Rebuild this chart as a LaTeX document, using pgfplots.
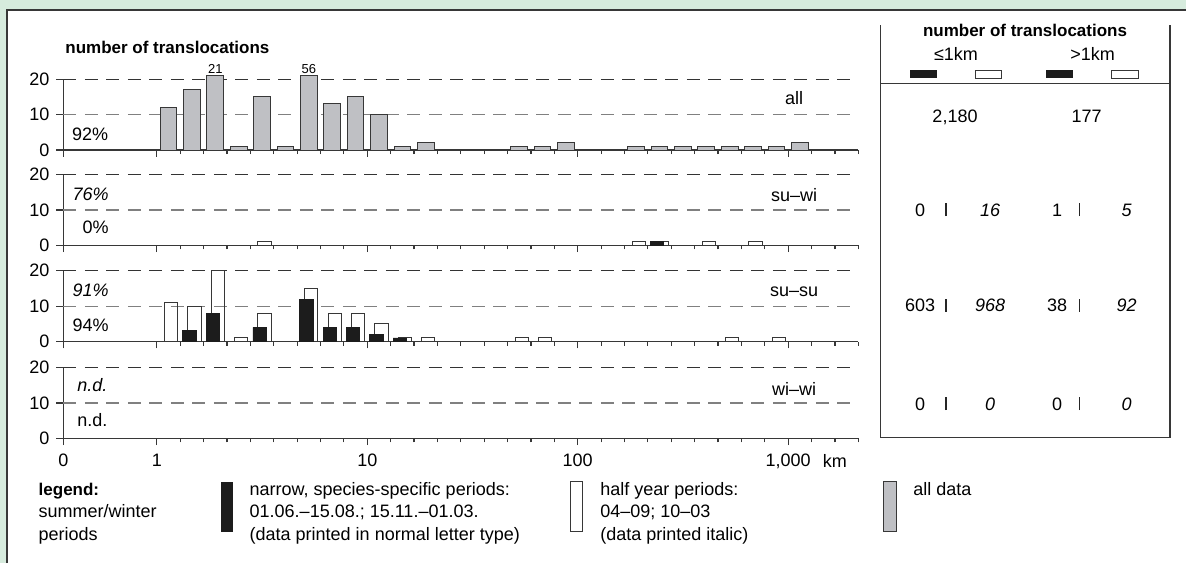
\documentclass[border=0pt]{standalone}
\usepackage{pgfplots}
\usepackage{pgfplotstable}
\pgfplotsset{compat=1.18}
\usepackage{fontspec}
\setmainfont{Liberation Sans}

\definecolor{bggreen}{RGB}{214,235,221}
\definecolor{allgrey}{RGB}{191,192,196}
\definecolor{narrowblk}{RGB}{28,28,28}
\definecolor{edge}{RGB}{55,55,55}

% x = bin index on the pseudo-log distance axis:
% -4 = 0 km, 0 = 1 km, 9 = 10 km, 18 = 100 km, 27 = 1,000 km (one tick per step)
% bars sit at the bin centres (e.g. 0.5 = 1-2 km, 10.5 = 20-30 km)
\pgfplotstableread{
bin n
0.5 12
1.5 17
2.5 21
3.5 1
4.5 15
5.5 1
6.5 56
7.5 13
8.5 15
9.5 10
10.5 1
11.5 2
15.5 1
16.5 1
17.5 2
20.5 1
21.5 1
22.5 1
23.5 1
24.5 1
25.5 1
26.5 1
27.5 2
}\alldata

\pgfplotstableread{
bin n
21.5 1
}\suwinarrow
\pgfplotstableread{
bin n
4.5 1
20.5 1
21.5 1
23.5 1
25.5 1
}\suwihalf

\pgfplotstableread{
bin n
1.5 3
2.5 8
4.5 4
6.5 12
7.5 4
8.5 4
9.5 2
10.5 1
}\susunarrow
\pgfplotstableread{
bin n
0.5 11
1.5 10
2.5 20
3.5 1
4.5 8
6.5 15
7.5 8
8.5 8
9.5 5
10.5 1
11.5 1
15.5 1
16.5 1
24.5 1
26.5 1
}\susuhalf

\pgfplotsset{
  panel/.style={
    scale only axis, width=397.5pt, height=35.4pt,
    anchor=south west,
    xmin=-4, xmax=30, ymin=0, ymax=20,
    clip=false,
    restrict y to domain*=0:21,
    axis x line=bottom, axis y line=left,
    axis line style={-, edge, line width=0.6pt},
    tick align=outside,
    major tick length=3.4pt, minor tick length=2pt,
    tick style={edge, line width=0.6pt},
    xtick={-4,0,9,18,27},
    minor xtick={1,2,3,4,5,6,7,8,10,11,12,13,14,15,16,17,19,20,21,22,23,24,25,26,28,29,30},
    xticklabels={},
    ytick={0,20}, yticklabels={0,20},
    extra y ticks={10}, extra y tick labels={10},
    ymajorgrids,
    major grid style={black!80, line width=0.6pt, dash pattern=on 6.5pt off 4.25pt},
    extra y tick style={major grid style={black!50, line width=0.6pt, dash pattern=on 6.5pt off 4.25pt}},
    tick label style={font=\fontsize{9}{11}\selectfont},
    /pgf/number format/assume math mode=true,
  },
  grey bar/.style={ybar, bar width=8.35pt, bar shift=0pt, fill=allgrey, draw=edge, line width=0.5pt},
  narrow bar/.style={ybar, bar width=6.65pt, bar shift=-1.25pt, fill=narrowblk, draw=narrowblk, line width=0.4pt},
  half bar/.style={ybar, bar width=6.65pt, bar shift=1.25pt, fill=none, draw=edge, line width=0.5pt},
}

\begin{document}
\begin{tikzpicture}
\begin{scope}[x=0.5pt, y=-0.5pt]
  \path[use as bounding box] (0,0) rectangle (1186,563);
  \fill[bggreen] (0,0) rectangle (1186,563);
  \fill[white] (7,10) rectangle (1186,563);
  \draw[edge, line width=0.7pt] (7,563) -- (7,10) -- (1186,10);
\end{scope}

% all
\begin{axis}[panel, at={(31.65pt,-75pt)}]
  \addplot[grey bar] table[x=bin, y=n] {\alldata};
  \node[font=\fontsize{6.5}{7}\selectfont, anchor=south, inner sep=0.8pt] at (axis cs:2.5,21) {21};
  \node[font=\fontsize{6.5}{7}\selectfont, anchor=south, inner sep=0.8pt] at (axis cs:6.5,21) {56};
\end{axis}

% su-wi
\begin{axis}[panel, at={(31.65pt,-122.65pt)}]
  \addplot[half bar] table[x=bin, y=n] {\suwihalf};
  \addplot[narrow bar] table[x=bin, y=n] {\suwinarrow};
\end{axis}

% su-su
\begin{axis}[panel, at={(31.65pt,-170.75pt)}]
  \addplot[half bar] table[x=bin, y=n] {\susuhalf};
  \addplot[narrow bar] table[x=bin, y=n] {\susunarrow};
\end{axis}

% wi-wi (no data)
\begin{axis}[panel, at={(31.65pt,-219.15pt)},
    xticklabels={0,1,10,100,{1,000}},
    extra x ticks={29}, extra x tick labels={km},
    extra x tick style={tick style={draw=none}},
    xticklabel style={yshift=-1pt}]
  \addplot[draw=none] coordinates {(0,0)};
\end{axis}

\begin{scope}[x=0.5pt, y=-0.5pt, every node/.style={inner sep=0pt},
    font=\fontsize{9}{11}\selectfont]
  \node[anchor=base west, font=\fontsize{8.5}{10}\selectfont\bfseries] at (65,53.3) {number of translocations};
  % panel labels
  \node[anchor=base east] at (108.5,140) {92\%};
  \node[anchor=base east, font=\fontsize{9}{11}\selectfont\itshape] at (109,200) {76\%};
  \node[anchor=base east] at (109,233.3) {0\%};
  \node[anchor=base east, font=\fontsize{9}{11}\selectfont\itshape] at (109,296.7) {91\%};
  \node[anchor=base east] at (109,331.7) {94\%};
  \node[anchor=base west, font=\fontsize{9}{11}\selectfont\itshape] at (77,391.7) {n.d.};
  \node[anchor=base west] at (77,426.7) {n.d.};
  \node[anchor=base] at (794,104.3) {all};
  \node[anchor=base] at (794,201.7) {su–wi};
  \node[anchor=base] at (794,296.7) {su–su};
  \node[anchor=base] at (794,395) {wi–wi};

  % right table
  \draw[edge, line width=0.6pt] (880.7,25) -- (880.7,437.3) -- (1170,437.3) -- (1170,25);
  \draw[edge, line width=0.6pt] (880.7,83.3) -- (1170,83.3);
  \node[anchor=base, font=\fontsize{8.5}{10}\selectfont\bfseries] at (1025,36.5) {number of translocations};
  \node[anchor=base] at (956,60) {≤1km};
  \node[anchor=base] at (1092.5,60) {>1km};
  \fill[narrowblk] (910,70) rectangle (937.3,78.3);
  \draw[edge, line width=0.5pt] (975,70) rectangle (1001.7,78.3);
  \fill[narrowblk] (1046,70) rectangle (1073.3,78.3);
  \draw[edge, line width=0.5pt] (1111.7,70) rectangle (1138.3,78.3);
  \node[anchor=base] at (955,122) {2,180};
  \node[anchor=base] at (1086.7,122) {177};
  \foreach \yy/\a/\b/\c/\d in {216/0/16/1/5, 311.7/603/968/38/92, 410/0/0/0/0}{
    \node[anchor=base] at (920,\yy) {\a};
    \node[anchor=base, font=\fontsize{9}{11}\selectfont\itshape] at (990,\yy) {\b};
    \node[anchor=base] at (1057,\yy) {\c};
    \node[anchor=base, font=\fontsize{9}{11}\selectfont\itshape] at (1126.5,\yy) {\d};
    \draw[black!85, line width=0.9pt] (946,\yy) -- ++(0,-12.6);
    \draw[black!85, line width=0.9pt] (1079.5,\yy) -- ++(0,-12.6);
  }

  % legend
  \node[anchor=base west, font=\fontsize{8.5}{10}\selectfont\bfseries] at (38.3,495) {legend:};
  \node[anchor=base west] at (38.3,517.7) {summer/winter};
  \node[anchor=base west] at (38.3,540.7) {periods};
  \fill[narrowblk] (221,481.7) rectangle (232.7,531.7);
  \node[anchor=base west] at (249.3,495) {narrow, species-specific periods:};
  \node[anchor=base west] at (249.3,517.7) {01.06.–15.08.; 15.11.–01.03.};
  \node[anchor=base west] at (249.3,540.7) {(data printed in normal letter type)};
  \draw[edge, line width=0.5pt] (570.7,481.7) rectangle (582.7,531.7);
  \node[anchor=base west] at (600,495) {half year periods:};
  \node[anchor=base west] at (600,517.7) {04–09; 10–03};
  \node[anchor=base west] at (600,540.7) {(data printed italic)};
  \draw[edge, fill=allgrey, line width=0.5pt] (883,481.7) rectangle (896.4,531.7);
  \node[anchor=base west] at (913,495) {all data};
\end{scope}
\end{tikzpicture}
\end{document}
